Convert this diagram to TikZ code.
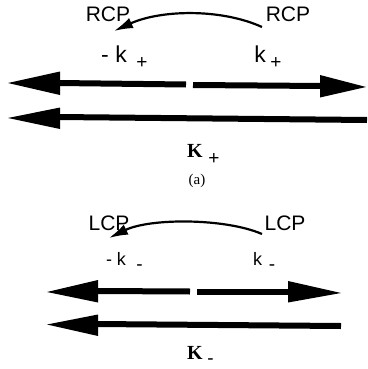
\documentclass[tikz,border=0pt]{standalone}
\usepackage{fontspec}
\setmainfont{Liberation Serif}
\setsansfont{Liberation Sans}
\usetikzlibrary{arrows.meta}
\begin{document}
\begin{tikzpicture}[x=1pt,y=-1pt,
  lbl/.style={inner sep=0pt,anchor=base,font=\sffamily\fontsize{21}{21}\selectfont},
  kk/.style={inner sep=0pt,anchor=base,font=\sffamily\fontsize{23}{23}\selectfont},
  ks/.style={inner sep=0pt,anchor=base,font=\sffamily\fontsize{18}{18}\selectfont},
  sub/.style={inner sep=0pt,font=\sffamily\fontsize{19}{19}\selectfont},
  bigk/.style={inner sep=0pt,anchor=base,font=\rmfamily\bfseries\fontsize{20}{20}\selectfont},
  shaft/.style={line width=6pt,line cap=butt},
  head/.style={fill=black},
  curvearrow/.style={line width=2.2pt,-{Latex[length=19pt,width=11pt]}}]
\useasboundingbox (0,0) rectangle (367,369);

% ---------- (a) ----------
\node[lbl] (rcpL) at (108,22) {RCP};
\node[lbl] (rcpR) at (288,22) {RCP};
\coordinate (ra) at (262,27);
\coordinate (rb) at (114,31);
\draw[curvearrow] (ra) .. controls (220,8) and (160,10) .. (rb);

\node[kk] (kL) at (114,63) {- k};
\node[sub] (kLs) at (142,63) {+};
\node[kk] (kR) at (260,63) {k};
\node[sub] (kRs) at (276,63) {+};

% arrow 1
\coordinate (a1t) at (8,83);
\coordinate (a1b) at (58,83);
\coordinate (a1e) at (186,84.5);
\coordinate (a1s) at (193,85);
\coordinate (a1f) at (322,86);
\coordinate (a1u) at (366,87);
\draw[shaft] (a1b) -- (a1e);
\draw[shaft] (a1s) -- (a1f);
\fill[head] (a1t) -- (60,71.5) -- (60,95) -- cycle;
\fill[head] (a1u) -- (320,75) -- (320,97.5) -- cycle;

% arrow 2
\coordinate (a2t) at (8,118);
\coordinate (a2b) at (58,117);
\coordinate (a2e) at (367,120);
\draw[shaft] (a2b) -- (a2e);
\fill[head] (a2t) -- (60,107.5) -- (60,129) -- cycle;

\node[bigk] (Kp) at (195,157) {K};
\node[sub] (Kps) at (214,159) {+};
\node[inner sep=0pt,font=\rmfamily\fontsize{15}{15}\selectfont] (cap) at (197,181) {(a)};

% ---------- (b) ----------
\node[lbl] (lcpL) at (109,230) {LCP};
\node[lbl] (lcpR) at (285,230) {LCP};
\coordinate (la) at (262,234);
\coordinate (lb) at (109,238);
\draw[curvearrow] (la) .. controls (225,218) and (150,218) .. (lb);

\node[ks] (mL) at (116,265) {- k};
\node[sub] (mLs) at (139.5,268) {-};
\node[ks] (mR) at (257.5,265) {k};
\node[sub] (mRs) at (272,268) {-};

% arrow 3
\coordinate (a3t) at (47,292);
\coordinate (a3b) at (96,291);
\coordinate (a3e) at (190,291.5);
\coordinate (a3s) at (197,292);
\coordinate (a3f) at (290,292);
\coordinate (a3u) at (341,293);
\draw[shaft] (a3b) -- (a3e);
\draw[shaft] (a3s) -- (a3f);
\fill[head] (a3t) -- (98,280) -- (98,302.5) -- cycle;
\fill[head] (a3u) -- (288,281) -- (288,302.5) -- cycle;

% arrow 4
\coordinate (a4t) at (47,324.5);
\coordinate (a4b) at (96,324);
\coordinate (a4e) at (341,326);
\draw[shaft] (a4b) -- (a4e);
\fill[head] (a4t) -- (98,314.5) -- (98,336) -- cycle;

\node[bigk] (Km) at (195,359) {K};
\node[sub] (Kms) at (210.5,362) {-};
\end{tikzpicture}
\end{document}
